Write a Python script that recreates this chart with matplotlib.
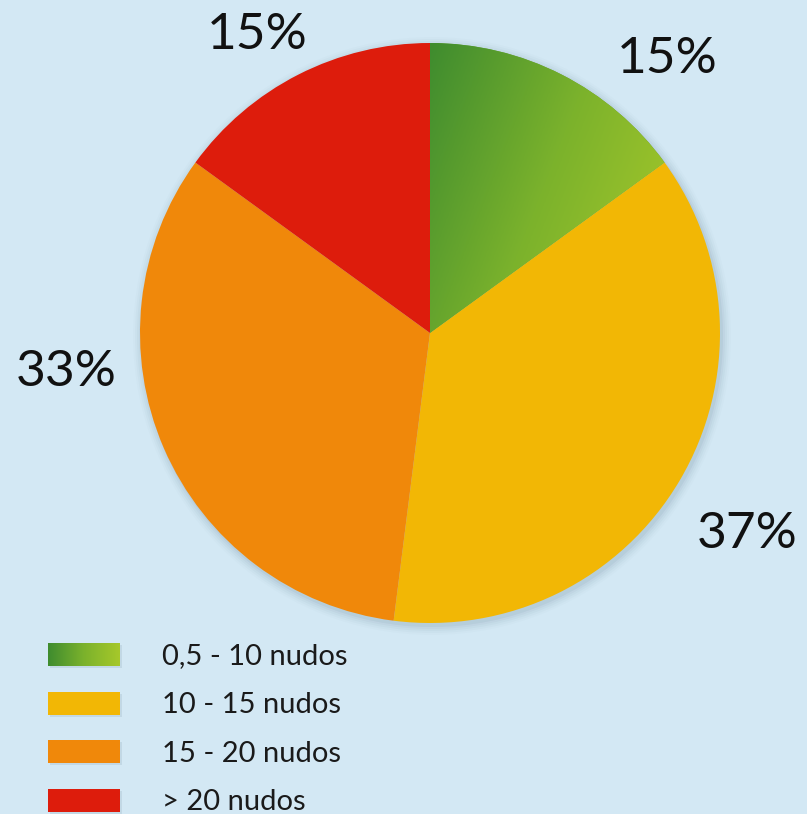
import numpy as np
import matplotlib
matplotlib.use("Agg")
import matplotlib.pyplot as plt
from matplotlib.patches import Rectangle, Circle
from matplotlib.colors import LinearSegmentedColormap

# datos del gráfico
categorias = ["0,5 - 10 nudos", "10 - 15 nudos", "15 - 20 nudos", "> 20 nudos"]
porcentajes = [15, 37, 33, 15]
colores = ["#6aa52e", "#f2b705", "#f0880a", "#dd1c0c"]

plt.rcParams["font.family"] = ["Lato", "DejaVu Sans"]

W, H = 807, 814
fondo = "#d3e8f4"
fig = plt.figure(figsize=(W / 100, H / 100), dpi=100, facecolor=fondo)
ax = fig.add_axes([0, 0, 1, 1])
ax.set_facecolor(fondo)

cx, cy, r = 430, H - 333, 290

# sombra suave alrededor del círculo
for i, a in enumerate([0.07, 0.05, 0.04, 0.03, 0.02]):
    ax.add_patch(Circle((cx + 2, cy - 3), r + 1 + i * 2, color="#4d6a80",
                        alpha=a, lw=0, zorder=1))

wedges, _ = ax.pie(porcentajes, colors=colores, startangle=90,
                   counterclock=False, center=(cx, cy), radius=r,
                   wedgeprops=dict(lw=0, zorder=2), frame=True)

# degradado verde de la primera porción
verde = LinearSegmentedColormap.from_list("verde", ["#3f8c2f", "#7bb22c", "#a6c82a"])
gx = np.linspace(cx, cx + r, 200)
gy = np.linspace(cy, cy + r, 200)
GX, GY = np.meshgrid(gx, gy)
T = ((GX - cx) * 0.9 + (cy + r - GY) * 0.35) / (r * 1.05)
img = ax.imshow(T, cmap=verde, extent=(cx, cx + r, cy, cy + r), origin="lower",
                vmin=0, vmax=1, zorder=3, interpolation="bilinear")
img.set_clip_path(wedges[0])

# etiquetas de porcentaje
pos_etiquetas = [(667, H - 59), (747, H - 534), (66, H - 372), (257, H - 35)]
for p, (x, y) in zip(porcentajes, pos_etiquetas):
    ax.text(x, y, f"{p}%", fontsize=37, color="#111111", ha="center",
            va="center", zorder=5)

# leyenda
y0 = H - 654.5
for i, (cat, col) in enumerate(zip(categorias, colores)):
    y = y0 - i * 48.5
    ax.add_patch(Rectangle((50, y - 13.5), 72, 23, color="#4d6a80", alpha=0.12,
                           lw=0, zorder=3))
    if i == 0:
        lx = np.linspace(0, 1, 100)[None, :]
        ax.imshow(lx, cmap=verde, extent=(48, 120, y - 11.5, y + 11.5),
                  zorder=4, aspect="auto")
    else:
        ax.add_patch(Rectangle((48, y - 11.5), 72, 23, color=col, lw=0, zorder=4))
    ax.text(162, y - 2, cat, fontsize=21, color="#1a1a1a", ha="left",
            va="center", zorder=5)

ax.set_xlim(0, W)
ax.set_ylim(0, H)
ax.set_aspect("equal")
ax.axis("off")
fig.savefig("out.png", dpi=100, facecolor=fondo)
